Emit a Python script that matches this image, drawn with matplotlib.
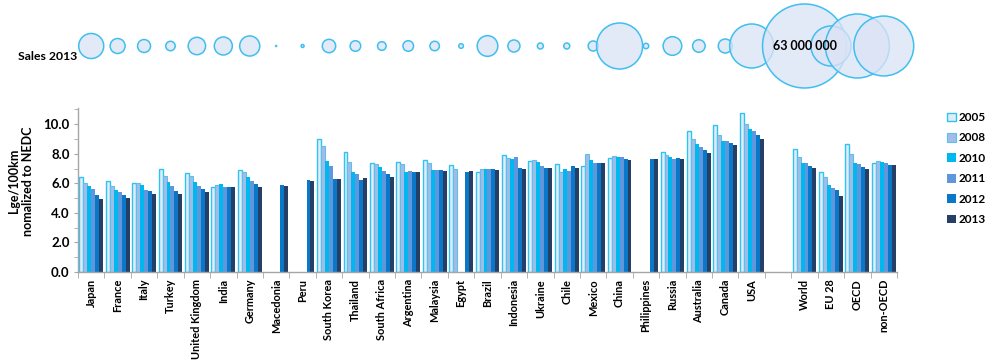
import numpy as np
import matplotlib
matplotlib.use("Agg")
import matplotlib.pyplot as plt
from matplotlib.ticker import MultipleLocator, FixedLocator

plt.rcParams['font.family'] = ['Lato', 'DejaVu Sans']

categories = ["Japan", "France", "Italy", "Turkey", "United Kingdom", "India", "Germany",
              "Macedonia", "Peru", "South Korea", "Thailand", "South Africa", "Argentina",
              "Malaysia", "Egypt", "Brazil", "Indonesia", "Ukraine", "Chile", "Mexico",
              "China", "Philippines", "Russia", "Australia", "Canada", "USA", "",
              "World", "EU 28", "OECD", "non-OECD"]

years = ["2005", "2008", "2010", "2011", "2012", "2013"]
nan = np.nan
v2005 = [6.4, 6.13, 6.0, 6.99, 6.72, 5.78, 6.9, nan, nan, 8.97, 8.11, 7.35, 7.44, 7.55, 7.21, 6.79,
         7.91, 7.48, 7.28, 7.19, 7.69, nan, 8.11, 9.53, 9.96, 10.79, nan, 8.34, 6.79, 8.63, 7.35]
v2008 = [6.0, 5.82, 6.0, 6.49, 6.49, 5.91, 6.76, nan, nan, 8.54, 7.42, 7.28, 7.28, 7.35, 6.99, 6.99,
         7.71, 7.55, 6.76, 8.0, 7.82, nan, 7.91, 9.03, 9.26, 10.02, nan, 7.75, 6.4, 8.0, 7.48]
v2010 = [5.82, 5.55, 5.91, 6.07, 6.11, 5.96, 6.45, nan, nan, 7.48, 6.74, 7.12, 6.76, 6.92, nan, 6.99,
         7.66, 7.42, 6.94, 7.55, 7.75, nan, 7.8, 8.67, 8.9, 9.66, nan, 7.37, 5.87, 7.37, 7.42]
v2011 = [5.6, 5.42, 5.55, 5.82, 5.82, 5.78, 6.18, nan, nan, 7.17, 6.63, 6.83, 6.85, 6.92, nan, 6.94,
         7.75, 7.15, 6.83, 7.37, 7.75, nan, 7.64, 8.47, 8.9, 9.55, nan, 7.35, 5.66, 7.33, 7.35]
v2012 = [5.19, 5.21, 5.5, 5.46, 5.6, 5.73, 5.96, 5.87, 6.22, 6.27, 6.25, 6.63, 6.76, 6.88, 6.79, 6.99,
         7.06, 7.03, 7.15, 7.37, 7.64, 7.66, 7.73, 8.25, 8.74, 9.24, nan, 7.19, 5.55, 7.12, 7.26]
v2013 = [4.97, 4.99, 5.28, 5.28, 5.42, 5.73, 5.73, 5.82, 6.13, 6.27, 6.34, 6.45, 6.79, 6.81, 6.83, 6.92,
         6.94, 7.03, 7.06, 7.39, 7.55, 7.66, 7.66, 8.04, 8.61, 9.01, nan, 7.06, 5.12, 6.94, 7.21]
series = [v2005, v2008, v2010, v2011, v2012, v2013]

# Sales 2013 (vehicles)
sales_2013 = [5.6e6, 2.0e6, 1.5e6, 0.8e6, 2.7e6, 2.9e6, 3.6e6, 0.01e6, 0.08e6, 1.6e6, 1.0e6, 0.66e6,
              1.0e6, 0.8e6, 0.19e6, 3.8e6, 1.3e6, 0.32e6, 0.32e6, 0.9e6, 18.9e6, 0.26e6, 3.1e6,
              1.4e6, 1.75e6, 17.3e6, nan, 63e6, 14.3e6, 36.6e6, 32e6]

faces = ['#e2ecf8', '#a3bce6', '#00b8f0', '#6097dc', '#0a78c8', '#253f66']
edges = ['#2ec4f2', '#5cc0ee', '#00b8f0', '#6097dc', '#0a78c8', '#253f66']
lws = [1.0, 0.8, 0.0, 0.0, 0.0, 0.0]

W, H = 989, 360
fig = plt.figure(figsize=(W / 100, H / 100), dpi=100)

x = np.arange(len(categories))
left_px, right_px, bottom_px, top_px = 78, 897, 272, 108
ax = fig.add_axes([left_px / W, 1 - bottom_px / H, (right_px - left_px) / W, (bottom_px - top_px) / H])

bw = 0.15
handles = []
for i, (vals, yr) in enumerate(zip(series, years)):
    b = ax.bar(x + (i - 2.5) * bw, vals, width=bw, color=faces[i], edgecolor=edges[i],
               linewidth=lws[i], label=yr, zorder=2)
    handles.append(b)

ax.set_xlim(-0.5, len(categories) - 0.5)
ax.set_ylim(0, 11.1)
for s in ['top', 'right']:
    ax.spines[s].set_visible(False)
for s in ['left', 'bottom']:
    ax.spines[s].set_color('#a6a6a6')
    ax.spines[s].set_linewidth(1.0)

ax.yaxis.set_minor_locator(MultipleLocator(1))
ax.set_yticks(np.arange(0, 11, 2))
ax.set_yticklabels([f"{v:.1f}" for v in np.arange(0, 11, 2)], fontsize=9.5, fontweight='bold')
ax.tick_params(axis='y', which='both', direction='out', length=3, color='#a6a6a6', pad=3)

ax.set_xticks(x)
ax.set_xticklabels(categories, rotation=90, fontsize=7.9, fontweight='bold')
ax.xaxis.set_minor_locator(FixedLocator(np.arange(-0.5, len(categories), 1.0)))
ax.tick_params(axis='x', which='major', length=0, pad=5)
ax.tick_params(axis='x', which='minor', direction='out', length=4, color='#a6a6a6')

fig.text(21 / W, 1 - 181 / H, "Lge/100km\nnomalized to NEDC", rotation=90, ha='center', va='center',
         multialignment='center', fontsize=9, fontweight='bold', linespacing=1.15)

leg = fig.legend(handles=handles, labels=years, loc='upper left',
                 bbox_to_anchor=(947 / W, 1 - 112 / H), frameon=False,
                 prop={'weight': 'bold', 'size': 8.5}, handlelength=0.75, handleheight=0.75,
                 handletextpad=0.2, labelspacing=0.8, borderpad=0, borderaxespad=0)

# Bubble row
bax = fig.add_axes([left_px / W, 1 - 92 / H, (right_px - left_px) / W, 92 / H])
bax.set_xlim(-0.5, len(categories) - 0.5)
bax.set_ylim(-1, 1)
bax.axis('off')
sales = np.array(sales_2013)
k = (84 * 0.72) ** 2 / 63e6
mask = ~np.isnan(sales)
bax.scatter(x[mask], np.zeros(mask.sum()), s=sales[mask] * k, facecolor=(0.86, 0.89, 0.96, 0.78),
            edgecolor='#3fbff0', linewidth=1.1, clip_on=False, zorder=2)
bax.text(27, 0, "63 000 000", ha='center', va='center', fontsize=9, fontweight='bold', zorder=3)
fig.text(18 / W, 1 - 57 / H, "Sales 2013", ha='left', va='center', fontsize=8.8, fontweight='bold')

fig.savefig("out.png", dpi=100)
